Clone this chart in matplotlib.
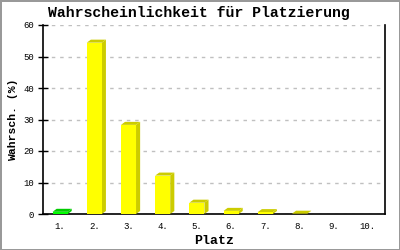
import matplotlib.pyplot as plt
from matplotlib.patches import Polygon, Rectangle

# data
places = ['1.', '2.', '3.', '4.', '5.', '6.', '7.', '8.', '9.', '10.']
probs = [0.7, 54.4, 28.3, 12.2, 3.6, 1.0, 0.6, 0.1, 0.0, 0.0]
colors = ['#00ff00'] + ['#ffff00'] * 9
shades = ['#00cc00'] + ['#cccc00'] * 9

FONT = ['Liberation Mono', 'DejaVu Sans Mono']

fig = plt.figure(figsize=(4, 2.5), dpi=100)
fig.patch.set_facecolor('white')
fig.patch.set_edgecolor('#999999')
fig.patch.set_linewidth(2)

ax = fig.add_axes([0.1075, 0.144, 0.855, 0.756])
ax.set_xlim(0, 10)
ax.set_ylim(0, 60)

# 3d depth of the bars, in data units (about 4px right, 3px up)
dx = 0.12
dy = 0.95
w = 0.44

for i, (v, c, s) in enumerate(zip(probs, colors, shades)):
    if v <= 0:
        continue
    x0 = i + 0.5 - w / 2
    x1 = x0 + w
    # side and top
    ax.add_patch(Polygon([(x1, 0), (x1 + dx, dy), (x1 + dx, v + dy), (x1, v)],
                         closed=True, facecolor=s, edgecolor='none', zorder=3))
    ax.add_patch(Polygon([(x0, v), (x0 + dx, v + dy), (x1 + dx, v + dy), (x1, v)],
                         closed=True, facecolor=s, edgecolor='none', zorder=3))
    ax.add_patch(Rectangle((x0, 0), w, v, facecolor=c, edgecolor='none', zorder=4))

# grid
ax.set_yticks(range(0, 61, 10))
ax.yaxis.grid(True, color='#c0c0c0', linestyle=(0, (2.5, 3.5)), linewidth=1)
ax.set_axisbelow(True)

ax.set_xticks([i + 0.5 for i in range(len(places))])
ax.set_xticklabels(places)
ax.tick_params(axis='x', length=0, pad=6)
ax.tick_params(axis='y', direction='inout', length=7, width=1, pad=3)

for lab in ax.get_xticklabels() + ax.get_yticklabels():
    lab.set_family(FONT)
    lab.set_fontsize(6.5)

ax.spines['top'].set_visible(False)
for side in ['left', 'right', 'bottom']:
    ax.spines[side].set_color('black')
    ax.spines[side].set_linewidth(1.2)

# title centred on the figure, not the axes
fig.text(0.498, 0.948, 'Wahrscheinlichkeit für Platzierung', family=FONT, fontweight='bold',
         fontsize=10.7, ha='center', va='center')
ax.set_xlabel('Platz', family=FONT, fontweight='bold', fontsize=9.5, labelpad=3)
ax.set_ylabel('Wahrsch. (%)', family=FONT, fontweight='bold', fontsize=8.2, labelpad=4)

fig.savefig('out.png', dpi=100, facecolor=fig.get_facecolor(), edgecolor=fig.get_edgecolor())
